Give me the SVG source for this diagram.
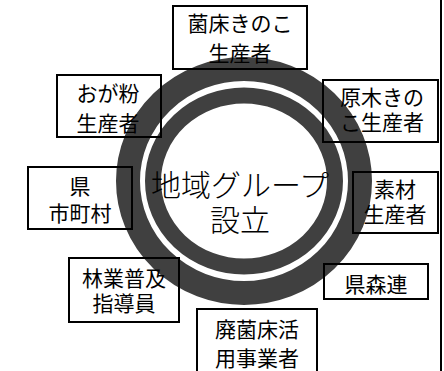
<svg xmlns="http://www.w3.org/2000/svg" width="444" height="371" viewBox="0 0 444 371">
<style>
.box{fill:none;stroke:#000;stroke-width:2}
.t{font-family:"Noto Sans CJK JP","Noto Sans",sans-serif;font-size:21px;fill:#000;text-anchor:middle}
.c{font-family:"Noto Sans CJK JP","Noto Sans",sans-serif;font-size:30px;font-weight:300;fill:#000;text-anchor:middle}
.ring{fill:none;stroke:#404040}
</style>
<rect width="444" height="371" fill="#fff"/>
<g id="rings">
<ellipse class="ring" cx="244" cy="181" rx="116" ry="112" stroke-width="24"/>
<ellipse class="ring" cx="244" cy="181" rx="91" ry="85.5" stroke-width="16"/>
</g>
<line x1="441" y1="0" x2="441" y2="371" stroke="#000" stroke-width="2"/>
<g id="center"><text class="c" x="240" y="196">地域グループ</text><text class="c" x="240" y="231">設立</text></g>
<g id="kinsho"><rect class="box" x="173" y="6" width="134" height="63"/><text class="t" x="240" y="31">菌床きのこ</text><text class="t" x="240" y="61">生産者</text></g>
<g id="ogako"><rect class="box" x="57" y="75" width="104" height="62"/><text class="t" x="108" y="101">おが粉</text><text class="t" x="108" y="131">生産者</text></g>
<g id="genboku"><rect class="box" x="323" y="80" width="115" height="62"/><text class="t" x="382" y="105">原木きの</text><text class="t" x="382" y="130">こ生産者</text></g>
<g id="ken"><rect class="box" x="28" y="167" width="104" height="62"/><text class="t" x="80" y="194">県</text><text class="t" x="80" y="221">市町村</text></g>
<g id="sozai"><rect class="box" x="353" y="172" width="85" height="61"/><text class="t" x="395" y="197">素材</text><text class="t" x="395" y="222">生産者</text></g>
<g id="fukyu"><rect class="box" x="69" y="258" width="110" height="64"/><text class="t" x="124" y="286">林業普及</text><text class="t" x="124" y="311">指導員</text></g>
<g id="kenshinren"><rect class="box" x="324" y="264" width="104" height="35"/><text class="t" x="376" y="292">県森連</text></g>
<g id="haikinsho"><rect class="box" x="197" y="309" width="120" height="80"/><text class="t" x="257" y="337">廃菌床活</text><text class="t" x="257" y="366">用事業者</text></g>
<g id="connectors"/>
</svg>
